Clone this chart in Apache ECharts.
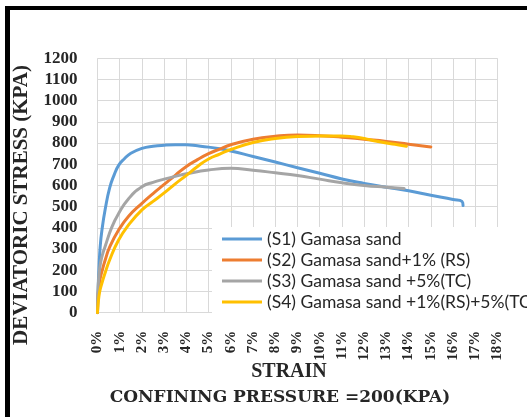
<!DOCTYPE html>
<html>
<head>
<meta charset="utf-8">
<script src="https://cdn.jsdelivr.net/npm/echarts@6/dist/echarts.min.js"></script>
<style>
  html, body { margin: 0; padding: 0; background: #fff; }
  #chart { width: 527px; height: 417px; }
</style>
</head>
<body>
<div id="chart"></div>
<script>
// Strain (%) and deviatoric stress (kPa) for each sample
const seriesNames = [
  '(S1) Gamasa sand',
  '(S2) Gamasa sand+1% (RS)',
  '(S3) Gamasa sand +5%(TC)',
  '(S4) Gamasa sand +1%(RS)+5%(TC)'
];

const s1Strain = [0, 0.03, 0.07, 0.12, 0.2, 0.35, 0.55, 0.75, 0.95, 1.2, 1.5, 2.0, 2.5, 3.0, 3.5, 4.0, 4.5, 5.0, 5.5, 6.0, 7.0, 8.0, 9.0, 10.0, 11.0, 12.0, 13.0, 14.0, 15.0, 16.0, 16.4, 16.45];
const s1Stress = [0, 120, 220, 310, 390, 490, 590, 650, 695, 725, 752, 775, 785, 790, 792, 792, 787, 781, 773, 763, 737, 711, 684, 658, 631, 610, 592, 575, 554, 534, 525, 506];

const s2Strain = [0, 0.03, 0.1, 0.2, 0.35, 0.55, 0.95, 1.4, 2.0, 2.5, 3.0, 3.5, 4.0, 4.5, 5.0, 5.5, 6.0, 7.0, 8.0, 9.0, 10.0, 11.0, 12.0, 13.0, 14.0, 15.0];
const s2Stress = [0, 90, 150, 195, 250, 310, 390, 455, 516, 562, 605, 648, 690, 722, 750, 772, 792, 818, 832, 838, 835, 828, 818, 808, 795, 782];

const s3Strain = [0, 0.03, 0.1, 0.2, 0.35, 0.65, 0.95, 1.4, 2.0, 2.5, 3.0, 3.5, 4.0, 5.0, 6.0, 7.0, 8.0, 9.0, 10.0, 11.0, 12.0, 13.0, 13.8];
const s3Stress = [0, 120, 210, 265, 315, 405, 468, 538, 594, 615, 630, 643, 655, 673, 681, 672, 660, 647, 630, 613, 600, 592, 586];

const s4Strain = [0, 0.03, 0.1, 0.2, 0.35, 0.55, 0.95, 1.4, 2.0, 2.5, 3.0, 3.5, 4.0, 4.5, 5.0, 5.5, 6.0, 7.0, 8.0, 9.0, 10.0, 11.0, 11.5, 12.0, 12.5, 13.0, 13.5, 13.9];
const s4Stress = [0, 45, 100, 140, 190, 250, 343, 414, 485, 525, 565, 608, 648, 690, 725, 748, 770, 803, 822, 831, 833, 834, 830, 822, 810, 800, 792, 785];

const colors = ['#5B9BD5', '#ED7D31', '#A5A5A5', '#FFC000'];

function pairs(xs, ys) {
  return xs.map((x, i) => [x, ys[i]]);
}

const curves = [
  pairs(s1Strain, s1Stress),
  pairs(s2Strain, s2Stress),
  pairs(s3Strain, s3Stress),
  pairs(s4Strain, s4Stress)
];

const chart = echarts.init(document.getElementById('chart'), null, { renderer: 'canvas' });

const serif = '"Liberation Serif", "Times New Roman", serif';

chart.setOption({
  animation: false,
  backgroundColor: '#ffffff',
  color: colors,
  grid: { left: 97.5, right: 29.5, top: 58.3, bottom: 104.3 },
  xAxis: {
    type: 'value',
    min: 0,
    max: 18,
    interval: 1,
    axisLine: { show: true, lineStyle: { color: '#D9D9D9', width: 1 } },
    axisTick: { show: false },
    splitLine: { show: true, lineStyle: { color: '#D9D9D9', width: 1 } },
    axisLabel: {
      rotate: 90,
      margin: 18,
      formatter: v => v + '%',
      fontFamily: serif,
      fontWeight: 'bold',
      fontSize: 15,
      color: '#262626'
    }
  },
  yAxis: {
    type: 'value',
    min: 0,
    max: 1200,
    interval: 100,
    axisLine: { show: false },
    axisTick: { show: false },
    splitLine: { show: true, lineStyle: { color: '#D9D9D9', width: 1 } },
    axisLabel: {
      margin: 20,
      formatter: v => String(v),
      fontFamily: serif,
      fontWeight: 'bold',
      fontSize: 17,
      color: '#262626'
    }
  },
  legend: {
    orient: 'vertical',
    left: 212,
    top: 227,
    padding: [3, 0, 4, 10],
    itemGap: 3,
    itemWidth: 40,
    itemHeight: 17,
    icon: 'path://M0,8.5L40,8.5L40,11.5L0,11.5Z',
    backgroundColor: '#ffffff',
    textStyle: {
      fontFamily: 'Lato, "Open Sans", sans-serif',
      fontSize: 17.5,
      color: '#262626'
    },
    data: seriesNames
  },
  series: curves.map((d, i) => ({
    name: seriesNames[i],
    type: 'line',
    data: d,
    symbol: 'none',
    showSymbol: false,
    smooth: 0.5,
    lineStyle: { width: 3, color: colors[i], cap: 'round', join: 'round' },
    itemStyle: { color: colors[i] }
  })),
  graphic: [
    // frame
    { type: 'rect', shape: { x: 5, y: 6, width: 522, height: 4 }, style: { fill: '#000' }, silent: true },
    { type: 'rect', shape: { x: 5, y: 6, width: 5, height: 411 }, style: { fill: '#000' }, silent: true },
    // axis titles
    {
      type: 'text',
      x: 22, y: 205,
      rotation: Math.PI / 2,
      style: {
        text: 'DEVIATORIC STRESS (KPA)',
        font: 'bold 21px ' + serif,
        fill: '#262626',
        textAlign: 'center',
        textVerticalAlign: 'middle'
      }
    },
    {
      type: 'text',
      x: 289, y: 372,
      style: {
        text: 'STRAIN',
        font: 'bold 20px ' + serif,
        fill: '#262626',
        textAlign: 'center',
        textVerticalAlign: 'middle'
      }
    },
    {
      type: 'text',
      x: 280, y: 398,
      style: {
        text: 'CONFINING PRESSURE =200(KPA)',
        font: 'bold 17px "DejaVu Serif", serif',
        fill: '#262626',
        textAlign: 'center',
        textVerticalAlign: 'middle'
      }
    }
  ]
});
</script>
</body>
</html>
